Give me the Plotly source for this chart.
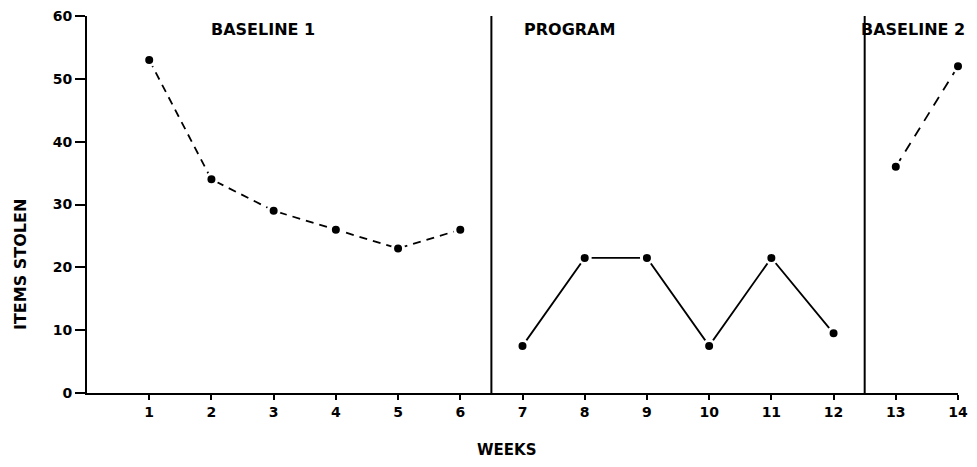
import plotly.graph_objects as go

# Data
baseline1_weeks = [1, 2, 3, 4, 5, 6]
baseline1_items = [53, 34, 29, 26, 23, 26]
program_weeks = [7, 8, 9, 10, 11, 12]
program_items = [7.5, 21.5, 21.5, 7.5, 21.5, 9.5]
baseline2_weeks = [13, 14]
baseline2_items = [36, 52]
phase_boundaries = [6.5, 12.5]
phase_labels = ["BASELINE 1", "PROGRAM", "BASELINE 2"]
phase_label_x = [2.83, 7.75, 13.27]
week_ticks = list(range(1, 15))
y_ticks = [0, 10, 20, 30, 40, 50, 60]

FONT = "DejaVu Sans, Liberation Sans, sans-serif"

fig = go.Figure()

marker = dict(size=11, color="black", line=dict(color="white", width=3))

fig.add_trace(go.Scatter(x=baseline1_weeks, y=baseline1_items, mode="lines+markers",
                         line=dict(color="black", width=1.8, dash="8px,6px"),
                         marker=marker, cliponaxis=False, showlegend=False))
fig.add_trace(go.Scatter(x=program_weeks, y=program_items, mode="lines+markers",
                         line=dict(color="black", width=1.8),
                         marker=marker, cliponaxis=False, showlegend=False))
fig.add_trace(go.Scatter(x=baseline2_weeks, y=baseline2_items, mode="lines+markers",
                         line=dict(color="black", width=1.8, dash="10px,8px"),
                         marker=marker, cliponaxis=False, showlegend=False))

for b in phase_boundaries:
    fig.add_shape(type="line", x0=b, x1=b, y0=0, y1=60.3, xref="x", yref="y",
                  line=dict(color="black", width=2))

for lbl, xx in zip(phase_labels, phase_label_x):
    fig.add_annotation(x=xx, y=57.8, xref="x", yref="y", text=lbl, showarrow=False,
                       font=dict(family=FONT, size=16, color="black", weight="bold"))

fig.add_annotation(x=-0.077, y=0.342, xref="paper", yref="paper", text="ITEMS STOLEN",
                   textangle=-90, showarrow=False, xanchor="center", yanchor="middle",
                   font=dict(family=FONT, size=16, color="black", weight="bold"))
fig.add_annotation(xref="paper", yref="paper", x=0.482, y=-0.15, text="WEEKS",
                   showarrow=False, yanchor="middle", xanchor="center",
                   font=dict(family=FONT, size=15, color="black", weight="bold"))

fig.update_xaxes(range=[0, 14], tickvals=week_ticks, ticktext=[str(w) for w in week_ticks],
                 showline=True, linecolor="black", linewidth=2, ticks="outside",
                 ticklen=5, tickwidth=2, tickcolor="black", showgrid=False, zeroline=False,
                 ticklabeloverflow="allow", automargin=False,
                 tickfont=dict(family=FONT, size=14, color="black", weight="bold"))
fig.update_yaxes(range=[0, 60], tickvals=y_ticks, showline=True, linecolor="black",
                 linewidth=2, ticks="outside", ticklen=10, tickwidth=2, tickcolor="black",
                 showgrid=False, zeroline=False, ticklabeloverflow="allow", automargin=False,
                 tickfont=dict(family=FONT, size=14, color="black", weight="bold"))

fig.update_layout(width=961, height=451, plot_bgcolor="white", paper_bgcolor="white",
                  margin=dict(l=79, r=11, t=8, b=66), showlegend=False)

fig.write_html("out.html")
